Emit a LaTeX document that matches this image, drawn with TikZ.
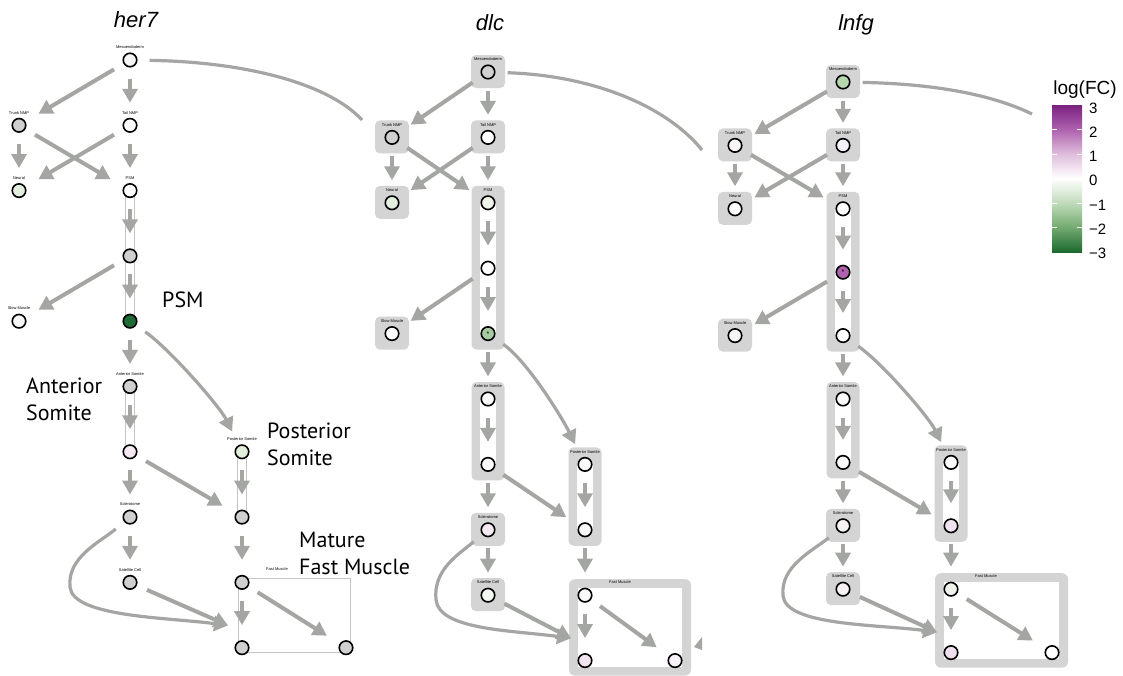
\documentclass[tikz,border=0pt]{standalone}
\usepackage{fontspec}
\setmainfont{Liberation Sans}
\newfontfamily\bigfont{PT Sans}
\usetikzlibrary{arrows.meta,calc}

\definecolor{arrgray}{HTML}{A4A6A4}
\definecolor{boxgray}{HTML}{D4D4D4}
\definecolor{thingray}{HTML}{C4C4C4}
\definecolor{na}{HTML}{D0D0D0}
% legend colours
\definecolor{cPthree}{HTML}{7B2181}
\definecolor{cPtwo}{HTML}{AE62AE}
\definecolor{cPone}{HTML}{DFBEDC}
\definecolor{cMone}{HTML}{C0DBBA}
\definecolor{cMtwo}{HTML}{72AA6F}
\definecolor{cMthree}{HTML}{1C6A30}
% panel a (her7)
\colorlet{aMeso}{white!97!black}
\colorlet{aTrunk}{na}
\colorlet{aTail}{white}
\definecolor{aNeural}{HTML}{E2EEDE}
\colorlet{aPSMa}{white}
\colorlet{aPSMb}{na}
\definecolor{aPSMc}{HTML}{1E6B36}
\colorlet{aSlow}{white!97!black}
\colorlet{aAntA}{na}
\definecolor{aAntB}{HTML}{F6E9F3}
\colorlet{aScl}{na}
\colorlet{aSat}{na}
\definecolor{aPostA}{HTML}{E0EEDA}
\colorlet{aPostB}{na}
\colorlet{aFastA}{na}
\colorlet{aFastB}{na}
\colorlet{aFastC}{na}
% panel b (dlc)
\colorlet{bMeso}{na}
\colorlet{bTrunk}{na}
\colorlet{bTail}{white}
\definecolor{bNeural}{HTML}{E3EEDF}
\definecolor{bPSMa}{HTML}{EEF4EC}
\colorlet{bPSMb}{white}
\definecolor{bPSMc}{HTML}{A9CBA2}
\colorlet{bSlow}{white}
\definecolor{bAntA}{HTML}{FAFAFA}
\definecolor{bAntB}{HTML}{FAFAFA}
\definecolor{bScl}{HTML}{F6EAF2}
\definecolor{bSat}{HTML}{F3F8F2}
\definecolor{bPostA}{HTML}{FAFAFA}
\definecolor{bPostB}{HTML}{F8F8F8}
\definecolor{bFastA}{HTML}{FAFAFA}
\definecolor{bFastB}{HTML}{F2E4EE}
\definecolor{bFastC}{HTML}{F8F3F8}
% panel c (lnfg)
\definecolor{cMeso}{HTML}{B6D6AE}
\definecolor{cTrunk}{HTML}{FAF5F8}
\definecolor{cTail}{HTML}{F6F1F8}
\colorlet{cNeural}{white}
\colorlet{cPSMa}{white}
\definecolor{cPSMb}{HTML}{B062AE}
\colorlet{cPSMc}{white}
\definecolor{cSlow}{HTML}{F8F5FA}
\definecolor{cAntA}{HTML}{FAFAFA}
\definecolor{cAntB}{HTML}{FAFAFA}
\definecolor{cScl}{HTML}{F8F2F5}
\definecolor{cSat}{HTML}{F8F2F5}
\definecolor{cPostA}{HTML}{FAFAFA}
\definecolor{cPostB}{HTML}{F0E3EF}
\definecolor{cFastA}{HTML}{EEF3EC}
\definecolor{cFastB}{HTML}{EEE0EC}
\colorlet{cFastC}{white}

\pgfdeclareverticalshading{fcshade}{100bp}{color(0bp)=(cMthree); color(25bp)=(cMthree); color(33.33bp)=(cMtwo); color(41.67bp)=(cMone); color(50bp)=(white); color(58.33bp)=(cPone); color(66.67bp)=(cPtwo); color(75bp)=(cPthree); color(100bp)=(cPthree)}

\tikzset{
  nd/.style={circle, draw=black, line width=1.6pt, minimum size=13.5pt, inner sep=0pt},
  tinytxt/.style={font=\fontsize{4}{4}\selectfont, inner sep=0pt},
  arr/.style={draw=arrgray, line width=4pt, -{Triangle[length=14pt,width=15pt]}, shorten <=11pt, shorten >=15pt},
  carr/.style={draw=arrgray, line width=3.2pt, -{Triangle[length=14pt,width=15pt]}, shorten <=11pt, shorten >=15pt},
  cline/.style={draw=arrgray, line width=3.2pt, shorten <=12pt},
  thinline/.style={draw=thingray, line width=1pt},
  bigtxt/.style={font=\bigfont\fontsize{22}{26}\selectfont, inner sep=0pt, anchor=base west},
  titletxt/.style={font=\itshape\fontsize{22}{22}\selectfont, inner sep=0pt, anchor=base},
  ast/.style={font=\fontsize{7}{7}\selectfont, inner sep=0pt},
}

\newcommand\Panel[8]{%
\pgfmathsetmacro\ya{#6}%
\pgfmathsetmacro\yb{#6+#7}%
\pgfmathsetmacro\yc{#6+2*#7}%
\pgfmathsetmacro\yd{#6+3*#7}%
\pgfmathsetmacro\ye{#6+4*#7}%
\pgfmathsetmacro\yf{#6+5*#7}%
\pgfmathsetmacro\yg{#6+6*#7}%
\pgfmathsetmacro\yh{#6+7*#7}%
\pgfmathsetmacro\yi{#6+8*#7}%
\pgfmathsetmacro\yj{#6+9*#7}%
\ifnum#8=1
  \foreach \xx/\yy in {#3/\ya,#2/\yb,#3/\yb,#2/\yc,#2/\ye,#3/\yh,#3/\yi}
    {\fill[boxgray, rounded corners=5pt] (\xx-17,\yy-17) rectangle (\xx+17,\yy+16);}
  \foreach \xx/\yy/\yz in {#3/\yc/\ye,#3/\yf/\yg,#4/\yg/\yh}
    {\fill[boxgray, rounded corners=5pt] (\xx-16.5,\yy-17) rectangle (\xx+16.5,\yz+16);
     \fill[white] (\xx-8,\yy) rectangle (\xx+8,\yz);}
  \fill[boxgray, rounded corners=6pt] (#4-16,\yi-16) rectangle (#5+16,\yj+15);
  \fill[white] (#4-7,\yi-7) rectangle (#5+7,\yj+6);
\else
  \foreach \xx/\yy/\yz in {#3/\yc/\ye,#3/\yf/\yg,#4/\yg/\yh}
    {\draw[thinline] (\xx-4.5,\yy) rectangle (\xx+4.5,\yz);}
  \draw[thinline] (#4-4,\yi-4) rectangle (#5+4,\yj+5);
\fi
\node[nd,fill=#1Meso,label={[tinytxt]90:Mesoendoderm}] (#1Meso) at (#3,\ya) {};
\node[nd,fill=#1Trunk,label={[tinytxt]90:Trunk NMP}] (#1Trunk) at (#2,\yb) {};
\node[nd,fill=#1Tail,label={[tinytxt]90:Tail NMP}] (#1Tail) at (#3,\yb) {};
\node[nd,fill=#1Neural,label={[tinytxt]90:Neural}] (#1Neural) at (#2,\yc) {};
\node[nd,fill=#1PSMa,label={[tinytxt]90:PSM}] (#1PSMa) at (#3,\yc) {};
\node[nd,fill=#1PSMb] (#1PSMb) at (#3,\yd) {};
\node[nd,fill=#1PSMc] (#1PSMc) at (#3,\ye) {};
\node[nd,fill=#1Slow,label={[tinytxt]90:Slow Muscle}] (#1Slow) at (#2,\ye) {};
\node[nd,fill=#1AntA,label={[tinytxt]90:Anterior Somite}] (#1AntA) at (#3,\yf) {};
\node[nd,fill=#1AntB] (#1AntB) at (#3,\yg) {};
\node[nd,fill=#1Scl,label={[tinytxt]90:Sclerotome}] (#1Scl) at (#3,\yh) {};
\node[nd,fill=#1Sat,label={[tinytxt]90:Satellite Cell}] (#1Sat) at (#3,\yi) {};
\node[nd,fill=#1PostA,label={[tinytxt]90:Posterior Somite}] (#1PostA) at (#4,\yg) {};
\node[nd,fill=#1PostB] (#1PostB) at (#4,\yh) {};
\node[nd,fill=#1FastA] (#1FastA) at (#4,\yi) {};
\node[nd,fill=#1FastB] (#1FastB) at (#4,\yj) {};
\node[nd,fill=#1FastC] (#1FastC) at (#5,\yj) {};
\node[tinytxt] (#1FMlab) at (#4+35,\yi-13) {Fast Muscle};
\draw[arr] (#1Meso) -- (#1Tail);
\draw[arr] (#1Meso) -- (#1Trunk);
\draw[arr] (#1Trunk) -- (#1Neural);
\draw[arr] (#1Trunk) -- (#1PSMa);
\draw[arr] (#1Tail) -- (#1Neural);
\draw[arr] (#1Tail) -- (#1PSMa);
\draw[arr] (#1PSMa) -- (#1PSMb);
\draw[arr] (#1PSMb) -- (#1PSMc);
\draw[arr] (#1PSMb) -- (#1Slow);
\draw[arr] (#1PSMc) -- (#1AntA);
\draw[carr] (#1PSMc) .. controls +(40,28) and +(-22,-45) .. (#1PostA);
\draw[arr] (#1AntA) -- (#1AntB);
\draw[arr] (#1AntB) -- (#1Scl);
\draw[arr] (#1AntB) -- (#1PostB);
\draw[arr] (#1PostA) -- (#1PostB);
\draw[arr] (#1PostB) -- (#1FastA);
\draw[arr] (#1Scl) -- (#1Sat);
\coordinate (#1FMin) at ($(#1FastA)+(-14,43)$);
\coordinate (#1Loop) at ($(#1Scl)+(\loopx,70)$);
\draw[carr, shorten >=0pt] (#1Scl) .. controls +(-30,25) and +(-3,-30) .. (#1Loop) .. controls +(3,30) and +(-60,-8) .. (#1FMin);
\draw[arr, shorten >=0pt] (#1Sat) -- (#1FMin);
\draw[arr] (#1FastA) -- (#1FastB);
\draw[arr] (#1FastA) -- (#1FastC);
}

\begin{document}
\begin{tikzpicture}[x=1pt, y=-1pt, label distance=3.5pt]
\useasboundingbox[fill=white] (0,0) rectangle (1123,675);

% titles
\node[titletxt] (t1) at (136,27) {her7};
\node[titletxt] (t2) at (490,30) {dlc};
\node[titletxt] (t3) at (856,30) {lnfg};

% panels
\def\loopx{-60}
\Panel{a}{19}{130}{242}{346}{60}{65.3}{0}
\def\loopx{-52}
\Panel{b}{392}{488}{585}{675}{72}{65.4}{1}
\def\loopx{-60}
\Panel{c}{735}{843}{951}{1052}{82}{63.4}{1}

% asterisks
\node[ast] (s1) at (bPSMc) {*};
\node[ast] (s2) at (cPSMb) {*};

% cut-off curves leaving the panels
\coordinate (aOut) at (362,120);
\coordinate (bOut) at (702,150);
\coordinate (cOut) at (1032,114);
\draw[cline] (aMeso) .. controls (250,62) and (330,85) .. (aOut);
\draw[cline] (bMeso) .. controls (600,76) and (670,110) .. (bOut);
\draw[cline] (cMeso) .. controls (940,84) and (995,96) .. (cOut);
\fill[arrgray] (694,647) -- (702,637) -- (702,650) -- cycle;

% annotation labels (her7 panel)
\node[bigtxt] (lPSM) at (162,307) {PSM};
\node[bigtxt] (lAnt1) at (26,393) {Anterior};
\node[bigtxt] (lAnt2) at (26,420) {Somite};
\node[bigtxt] (lPost1) at (267,438) {Posterior};
\node[bigtxt] (lPost2) at (267,465) {Somite};
\node[bigtxt] (lMat1) at (299,547) {Mature};
\node[bigtxt] (lMat2) at (299,574) {Fast Muscle};

% legend
\node[font=\fontsize{19}{19}\selectfont, inner sep=0pt, anchor=base] (legT) at (1085,94) {log(FC)};
\shade[shading=fcshade] (1052,105) rectangle (1082,252);
\foreach \k in {1,...,5} {
  \draw[white, line width=0.8pt] (1052,105+24.5*\k) -- ++(5,0);
  \draw[white, line width=0.8pt] (1082,105+24.5*\k) -- ++(-5,0);
}
\foreach \k/\t in {0/3,1/2,2/1,3/0,4/−1,5/−2,6/−3}
  \node[font=\fontsize{15}{15}\selectfont, inner sep=0pt, anchor=west] at (1089,108.5+24.1*\k) {\t};
\end{tikzpicture}
\end{document}
